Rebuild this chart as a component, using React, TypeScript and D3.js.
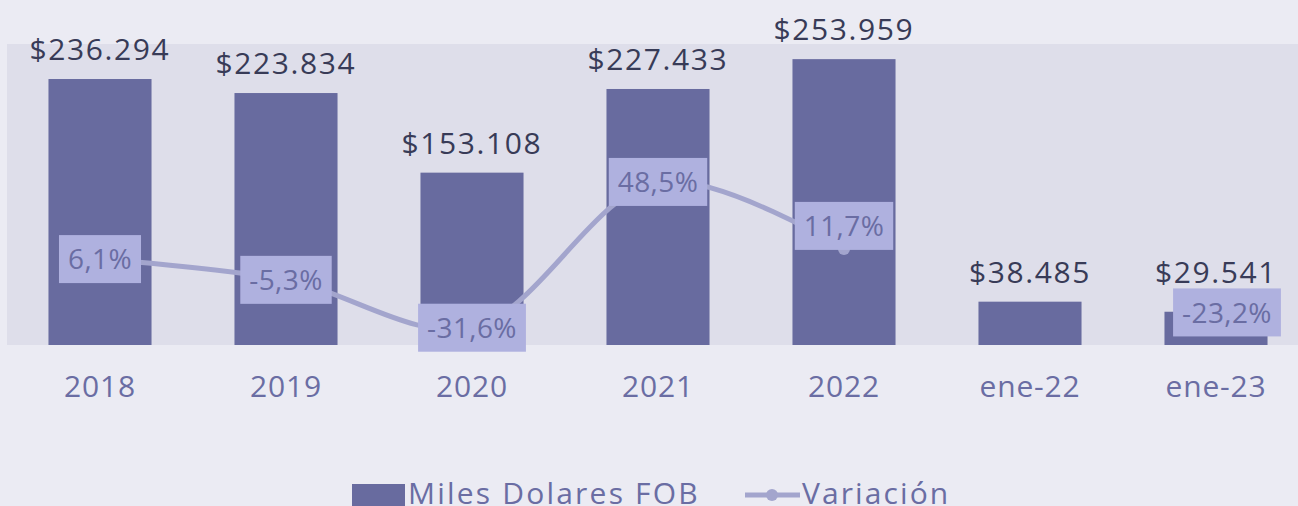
import React, { useEffect, useRef } from "react";
import * as d3 from "d3";

const categories = ["2018", "2019", "2020", "2021", "2022", "ene-22", "ene-23"];
const fobValues = [236294, 223834, 153108, 227433, 253959, 38485, 29541];
const fobLabels = ["$236.294", "$223.834", "$153.108", "$227.433", "$253.959", "$38.485", "$29.541"];
const variation = [6.1, -5.3, -31.6, 48.5, 11.7, null, -23.2];
const variationLabels = ["6,1%", "-5,3%", "-31,6%", "48,5%", "11,7%", "", "-23,2%"];
const legendLabels = ["Miles Dolares FOB", "Variación"];

const W = 1298, H = 506;
const FONT = "'Open Sans', 'DejaVu Sans', sans-serif";

const App = () => {
    const svgRef = useRef<SVGSVGElement>(null);

    useEffect(() => {
        const svg = d3.select(svgRef.current);
        svg.selectAll("*").remove();

        const plotTop = 44, plotBottom = 345, plotLeft = 7, plotRight = 1309;

        svg.append("rect").attr("width", W).attr("height", H).attr("fill", "#ebebf3");
        svg.append("rect")
            .attr("x", plotLeft).attr("y", plotTop)
            .attr("width", W - plotLeft).attr("height", plotBottom - plotTop)
            .attr("fill", "#dedeea");

        const x = d3.scaleBand()
            .domain(categories)
            .range([plotLeft, plotRight])
            .paddingInner(0.446)
            .paddingOuter(0.223);

        const y = d3.scaleLinear().domain([0, 267400]).range([plotBottom, plotTop]);
        const y2 = d3.scaleLinear().domain([-40, 60]).range([343, 161]);

        // bars
        svg.append("g").selectAll("rect")
            .data(fobValues)
            .enter()
            .append("rect")
            .attr("x", (d, i) => x(categories[i])!)
            .attr("y", d => y(d))
            .attr("width", x.bandwidth())
            .attr("height", d => y(0) - y(d))
            .attr("fill", "#686b9f");

        // bar value labels (last one pushed up to clear its variation box)
        svg.append("g").selectAll("text")
            .data(fobValues)
            .enter()
            .append("text")
            .attr("x", (d, i) => x(categories[i])! + x.bandwidth() / 2)
            .attr("y", (d, i) => y(d) - (i === 6 ? 29 : 19))
            .attr("text-anchor", "middle")
            .attr("font-family", FONT)
            .attr("font-size", 30)
            .attr("letter-spacing", 1.6)
            .attr("fill", "#383b57")
            .text((d, i) => fobLabels[i]);

        // category labels
        svg.append("g").selectAll("text")
            .data(categories)
            .enter()
            .append("text")
            .attr("x", d => x(d)! + x.bandwidth() / 2)
            .attr("y", 397)
            .attr("text-anchor", "middle")
            .attr("font-family", FONT)
            .attr("font-size", 30)
            .attr("letter-spacing", 0.8)
            .attr("fill", "#6a6da3")
            .text(d => d);

        // variation line
        const pts = variation
            .map((v, i) => ({ v, c: categories[i], i }))
            .filter(d => d.v !== null) as { v: number; c: string; i: number }[];
        const lineSeg = pts.filter(d => d.i <= 4);

        const line = d3.line<{ v: number; c: string }>()
            .x(d => x(d.c)! + x.bandwidth() / 2)
            .y(d => y2(d.v))
            .curve(d3.curveCatmullRom.alpha(0.5));

        svg.append("path")
            .datum(lineSeg)
            .attr("d", line)
            .attr("fill", "none")
            .attr("stroke", "#a3a5cd")
            .attr("stroke-width", 5);

        svg.append("g").selectAll("circle")
            .data(pts)
            .enter()
            .append("circle")
            .attr("cx", d => x(d.c)! + x.bandwidth() / 2)
            .attr("cy", d => y2(d.v))
            .attr("r", 6)
            .attr("fill", "#a3a5cd");

        // variation labels in boxes
        const lbl = svg.append("g").selectAll("g")
            .data(pts)
            .enter()
            .append("g")
            .attr("transform", d => {
                const cx = x(d.c)! + x.bandwidth() / 2 + (d.i === 6 ? 11 : 0);
                const cy = y2(d.v) + (d.i === 4 ? -23 : 0);
                return `translate(${cx},${cy})`;
            });

        lbl.append("rect").attr("fill", "#afb1df");
        lbl.append("text")
            .attr("text-anchor", "middle")
            .attr("dy", "0.36em")
            .attr("font-family", FONT)
            .attr("font-size", 28)
            .attr("letter-spacing", 0.4)
            .attr("fill", "#6a6da3")
            .text(d => variationLabels[d.i]);

        lbl.each(function () {
            const g = d3.select(this);
            const t = (g.select("text").node() as SVGTextElement).getBBox();
            g.select("rect")
                .attr("x", -t.width / 2 - 9)
                .attr("y", -24)
                .attr("width", t.width + 18)
                .attr("height", 48);
        });

        // legend
        const leg = svg.append("g");
        leg.append("rect").attr("x", 352).attr("y", 484).attr("width", 53).attr("height", 22).attr("fill", "#686b9f");
        leg.append("text")
            .attr("x", 408).attr("y", 504)
            .attr("font-family", FONT).attr("font-size", 30).attr("letter-spacing", 2.2)
            .attr("fill", "#6a6da3")
            .text(legendLabels[0]);
        leg.append("line")
            .attr("x1", 745).attr("x2", 800).attr("y1", 495).attr("y2", 495)
            .attr("stroke", "#a3a5cd").attr("stroke-width", 5);
        leg.append("circle").attr("cx", 772).attr("cy", 495).attr("r", 6).attr("fill", "#a3a5cd");
        leg.append("text")
            .attr("x", 802).attr("y", 504)
            .attr("font-family", FONT).attr("font-size", 30).attr("letter-spacing", 2.1)
            .attr("fill", "#6a6da3")
            .text(legendLabels[1]);
    }, []);

    return (
        <div>
            <style>{`body{margin:0}`}</style>
            <svg ref={svgRef} width={W} height={H} style={{ display: "block" }}></svg>
        </div>
    );
};

export default App;
